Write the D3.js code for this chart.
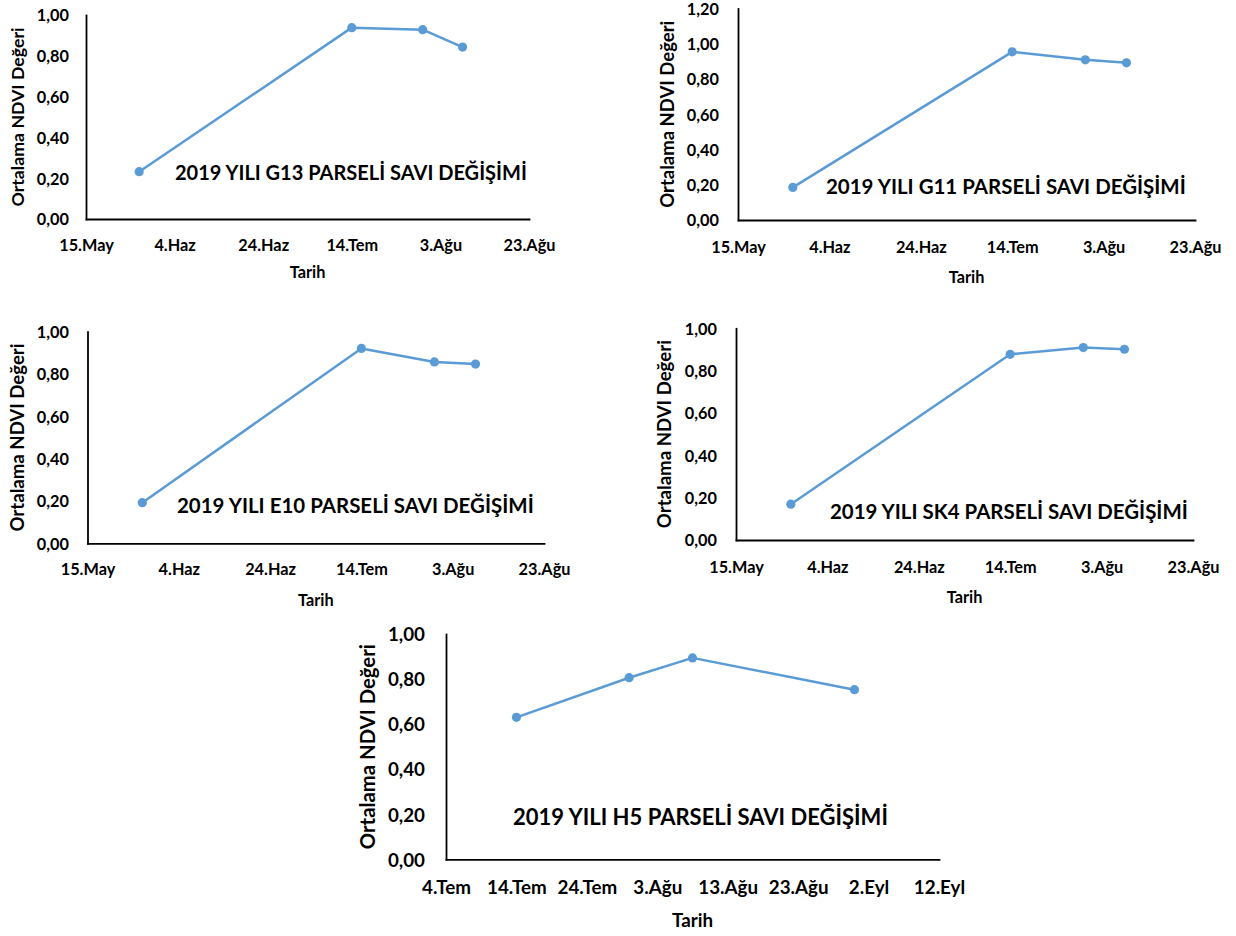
<!DOCTYPE html>
<html>
<head>
<meta charset="utf-8">
<script src="https://cdn.jsdelivr.net/npm/d3@7"></script>
<style>
  html, body { margin: 0; padding: 0; background: #fff; }
  svg { display: block; }
  text { font-family: Lato, "Open Sans", sans-serif; font-weight: bold; fill: #000; }
</style>
</head>
<body>
<svg id="chart" width="1236" height="936"></svg>
<script>
// ---------------- DATA ----------------
const datesSpring = ["2019-05-27", "2019-07-14", "2019-07-30", "2019-08-08"];
const valuesG13 = [0.232, 0.938, 0.928, 0.843];
const valuesG11 = [0.185, 0.954, 0.909, 0.892];
const valuesE10 = [0.192, 0.921, 0.857, 0.847];
const valuesSK4 = [0.169, 0.877, 0.909, 0.901];

const datesH5 = ["2019-07-14", "2019-07-30", "2019-08-08", "2019-08-31"];
const valuesH5 = [0.630, 0.806, 0.894, 0.753];

const tickDatesSpring = ["2019-05-15", "2019-06-04", "2019-06-24", "2019-07-14", "2019-08-03", "2019-08-23"];
const tickLabelsSpring = ["15.May", "4.Haz", "24.Haz", "14.Tem", "3.Ağu", "23.Ağu"];
const tickDatesH5 = ["2019-07-04", "2019-07-14", "2019-07-24", "2019-08-03", "2019-08-13", "2019-08-23", "2019-09-02", "2019-09-12"];
const tickLabelsH5 = ["4.Tem", "14.Tem", "24.Tem", "3.Ağu", "13.Ağu", "23.Ağu", "2.Eyl", "12.Eyl"];

const yTicks100 = [0, 0.2, 0.4, 0.6, 0.8, 1.0];
const yTicks120 = [0, 0.2, 0.4, 0.6, 0.8, 1.0, 1.2];

const titles = [
  "2019 YILI G13 PARSELİ SAVI DEĞİŞİMİ",
  "2019 YILI G11 PARSELİ SAVI DEĞİŞİMİ",
  "2019 YILI E10 PARSELİ SAVI DEĞİŞİMİ",
  "2019 YILI SK4 PARSELİ SAVI DEĞİŞİMİ",
  "2019 YILI H5 PARSELİ SAVI DEĞİŞİMİ"
];
const yAxisTitle = "Ortalama NDVI Değeri";
const xAxisTitle = "Tarih";

// ---------------- LAYOUT ----------------
const panels = [
  { dates: datesSpring, values: valuesG13, ticks: tickDatesSpring, labels: tickLabelsSpring, yTicks: yTicks100,
    left: 86, right: 529, top: 15, bottom: 219, yLabRight: 69, xTickBase: 251, xTitleBase: 278, yTitleX: 18, yTitleLen: 179,
    titleX: 175, titleBase: 180, titleLen: 352, fs: 16.3, title: titles[0] },
  { dates: datesSpring, values: valuesG11, ticks: tickDatesSpring, labels: tickLabelsSpring, yTicks: yTicks120,
    left: 738, right: 1195, top: 8.5, bottom: 220, yLabRight: 719, xTickBase: 253, xTitleBase: 283, yTitleX: 667, yTitleLen: 187,
    titleX: 826, titleBase: 194, titleLen: 360, fs: 16.3, title: titles[1] },
  { dates: datesSpring, values: valuesE10, ticks: tickDatesSpring, labels: tickLabelsSpring, yTicks: yTicks100,
    left: 87.5, right: 544, top: 331.7, bottom: 543.3, yLabRight: 69, xTickBase: 575, xTitleBase: 606, yTitleX: 17, yTitleLen: 188,
    titleX: 177, titleBase: 513, titleLen: 357, fs: 16.3, title: titles[2] },
  { dates: datesSpring, values: valuesSK4, ticks: tickDatesSpring, labels: tickLabelsSpring, yTicks: yTicks100,
    left: 736, right: 1193, top: 328.3, bottom: 540, yLabRight: 717, xTickBase: 573, xTitleBase: 603, yTitleX: 664, yTitleLen: 188,
    titleX: 830, titleBase: 519, titleLen: 358, fs: 16.3, title: titles[3] },
  { dates: datesH5, values: valuesH5, ticks: tickDatesH5, labels: tickLabelsH5, yTicks: yTicks100,
    left: 446, right: 939, top: 634, bottom: 859.3, yLabRight: 425, xTickBase: 894, xTitleBase: 927, yTitleX: 368, yTitleLen: 205,
    titleX: 513, titleBase: 825, titleLen: 375, fs: 18.8, title: titles[4] }
];

const lineColor = "#5B9BD5";
const parse = d3.utcParse("%Y-%m-%d");
const trLocale = d3.formatLocale({ decimal: ",", thousands: ".", grouping: [3], currency: ["", "₺"] });
const fmt = trLocale.format(".2f");

const svg = d3.select("#chart");

function fitWidth(textSel, target) {
  const node = textSel.node();
  const base = parseFloat(textSel.style("font-size"));
  const w = node.getComputedTextLength();
  if (w > 0) textSel.style("font-size", (base * target / w) + "px");
}

panels.forEach(p => {
  const g = svg.append("g");
  const tickDates = p.ticks.map(parse);
  const x = d3.scaleUtc().domain([tickDates[0], tickDates[tickDates.length - 1]]).range([p.left, p.right]);
  const yMax = p.yTicks[p.yTicks.length - 1];
  const y = d3.scaleLinear().domain([0, yMax]).range([p.bottom, p.top]);

  // x axis
  const xAxis = g.append("g")
    .attr("transform", `translate(0,${p.bottom})`)
    .call(d3.axisBottom(x).tickValues(tickDates).tickFormat((d, i) => p.labels[i]).tickSize(0).tickSizeOuter(0));
  xAxis.select(".domain").attr("stroke", "#000").attr("stroke-width", 1.8);
  xAxis.selectAll("text")
    .attr("y", p.xTickBase - p.bottom).attr("dy", null)
    .style("font-size", p.fs + "px").style("font-family", "Lato").attr("fill", "#000");

  // y axis
  const yAxis = g.append("g")
    .attr("transform", `translate(${p.left},0)`)
    .call(d3.axisLeft(y).tickValues(p.yTicks).tickFormat(fmt).tickSize(0).tickSizeOuter(0));
  yAxis.select(".domain").attr("stroke", "#000").attr("stroke-width", 1.8);
  yAxis.selectAll("text")
    .attr("x", p.yLabRight - p.left).attr("dy", "0.36em")
    .style("font-size", p.fs + "px").style("font-family", "Lato").attr("fill", "#000");
  g.selectAll(".tick line").remove();
  g.selectAll(".domain").attr("stroke-linecap", "square");

  // series
  const pts = p.dates.map((d, i) => ({ date: parse(d), v: p.values[i] }));
  const line = d3.line().x(d => x(d.date)).y(d => y(d.v));
  g.append("path").datum(pts)
    .attr("d", line).attr("fill", "none")
    .attr("stroke", lineColor).attr("stroke-width", 2.5).attr("stroke-linejoin", "round");
  g.selectAll("circle.pt").data(pts).join("circle")
    .attr("class", "pt")
    .attr("cx", d => x(d.date)).attr("cy", d => y(d.v)).attr("r", 4.6)
    .attr("fill", lineColor);

  // x title
  g.append("text").attr("x", (p.left + p.right) / 2).attr("y", p.xTitleBase)
    .attr("text-anchor", "middle").style("font-size", p.fs + "px").text(xAxisTitle);

  // y title
  const yt = g.append("text")
    .attr("transform", `translate(${p.yTitleX},${(p.top + p.bottom) / 2}) rotate(-90)`)
    .attr("text-anchor", "middle").attr("dy", "0.36em")
    .style("font-size", p.fs + "px").text(yAxisTitle);
  fitWidth(yt, p.yTitleLen);

  // chart title
  const tt = g.append("text").attr("x", p.titleX).attr("y", p.titleBase)
    .style("font-size", "18px").text(p.title);
  fitWidth(tt, p.titleLen);
});
</script>
</body>
</html>
